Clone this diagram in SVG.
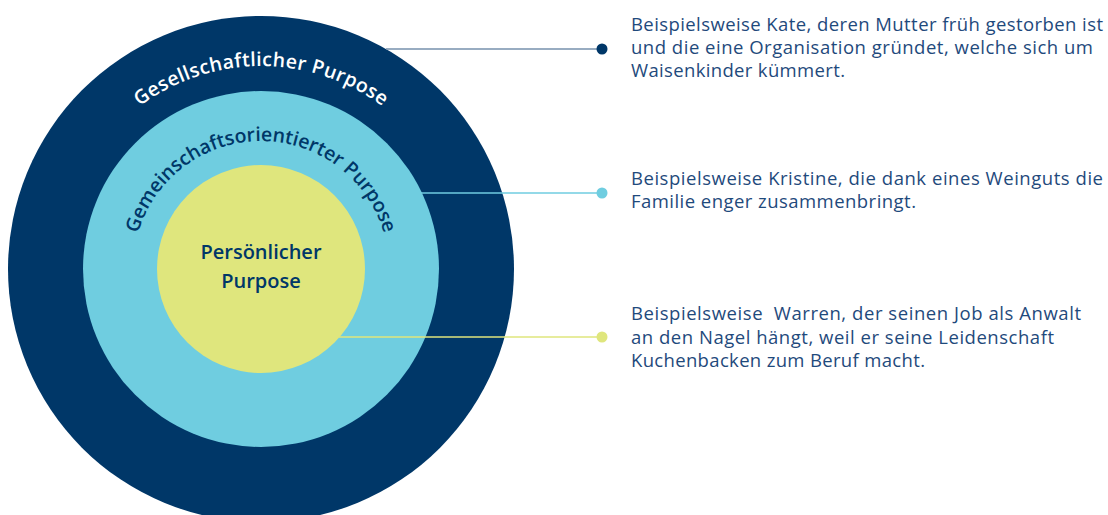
<svg xmlns="http://www.w3.org/2000/svg" width="1108" height="515" viewBox="0 0 1108 515">
  <defs>
    <style>
      text { font-variant-ligatures: none; }
      .ring-label { font-family: "Open Sans", "Noto Sans", "Liberation Sans", sans-serif; font-size: 19.5px; font-weight: 600; }
      .core-label { font-family: "Open Sans", "Noto Sans", "Liberation Sans", sans-serif; font-size: 20px; font-weight: 600; fill: #003768; text-anchor: middle; }
      .example { font-family: "Open Sans", "Noto Sans", "Liberation Sans", sans-serif; font-size: 18.5px; fill: #1f4a7c; }
      .leader { stroke-width: 1.5; fill: none; }
    </style>
    <path id="arcOuter" d="M 58 269 A 203 203 0 0 1 464 269"/>
    <path id="arcMiddle" d="M 133 269 A 128 128 0 0 1 389 269"/>
  </defs>

  <rect width="1108" height="515" fill="#ffffff"/>

  <!-- outer ring: societal purpose -->
  <g id="ring-gesellschaftlich">
    <circle cx="261" cy="269" r="253" fill="#003768"/>
    <text class="ring-label" fill="#ffffff"><textPath href="#arcOuter" startOffset="50%" text-anchor="middle" textLength="260" lengthAdjust="spacing">Gesellschaftlicher Purpose</textPath></text>
  </g>

  <!-- middle ring: community purpose -->
  <g id="ring-gemeinschaft">
    <circle cx="261" cy="269" r="178" fill="#6fcde0"/>
    <text class="ring-label" fill="#003768"><textPath href="#arcMiddle" startOffset="50%" text-anchor="middle" textLength="330" lengthAdjust="spacing">Gemeinschaftsorientierter Purpose</textPath></text>
  </g>

  <!-- core: personal purpose -->
  <g id="core-persoenlich">
    <circle cx="261" cy="269" r="104" fill="#dfe67d"/>
    <text class="core-label" x="261" y="259">Persönlicher</text>
    <text class="core-label" x="261" y="288">Purpose</text>
  </g>

  <!-- leader lines to the examples -->
  <g id="connectors">
    <line class="leader" x1="386" y1="49" x2="602" y2="49" stroke="#7690ad"/>
    <circle cx="602" cy="49" r="5.5" fill="#003768"/>
    <line class="leader" x1="421" y1="193" x2="602" y2="193" stroke="#6fcde0"/>
    <circle cx="602" cy="193" r="5.5" fill="#6fcde0"/>
    <line class="leader" x1="339" y1="337" x2="602" y2="337" stroke="#dfe67d"/>
    <circle cx="602" cy="337" r="5.5" fill="#dfe67d"/>
  </g>

  <g id="example-kate">
    <text class="example" x="631" y="31" textLength="472">Beispielsweise Kate, deren Mutter früh gestorben ist</text>
    <text class="example" x="631" y="54" textLength="462">und die eine Organisation gründet, welche sich um</text>
    <text class="example" x="631" y="77" textLength="214">Waisenkinder kümmert.</text>
  </g>

  <g id="example-kristine">
    <text class="example" x="631" y="185" textLength="472">Beispielsweise Kristine, die dank eines Weinguts die</text>
    <text class="example" x="631" y="208" textLength="285">Familie enger zusammenbringt.</text>
  </g>

  <g id="example-warren">
    <text class="example" x="631" y="320" textLength="450" xml:space="preserve">Beispielsweise  Warren, der seinen Job als Anwalt</text>
    <text class="example" x="631" y="344" textLength="423">an den Nagel hängt, weil er seine Leidenschaft</text>
    <text class="example" x="631" y="367" textLength="294">Kuchenbacken zum Beruf macht.</text>
  </g>
</svg>
